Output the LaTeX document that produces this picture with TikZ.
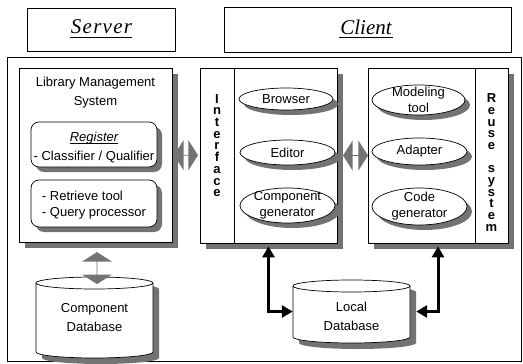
\documentclass[tikz,border=0pt]{standalone}
\usepackage{fontspec}
\setmainfont{Liberation Sans}
\newfontfamily\titlefont{Liberation Serif}
\usetikzlibrary{shapes.geometric,shapes.arrows,arrows.meta,calc}

% outline of an upright database drum: left x, top-ellipse y, width, height
\newcommand\drumpath[4]{(#1,#2) -- (#1,#2+#4)
  arc[start angle=180,end angle=0,x radius=#3/2,y radius=6]
  -- (#1+#3,#2) arc[start angle=0,end angle=-180,x radius=#3/2,y radius=6] -- cycle}

% oval with a cast shadow: name, centre x, centre y, width, height, text
\newcommand\shadedoval[6]{%
  \fill[shadowfill] (#2+5,#3+5) ellipse[x radius=#4/2,y radius=#5/2];
  \node[oval,minimum width=#4pt,minimum height=#5pt] (#1) at (#2,#3) {};
  \node[lbl] at (#1) {#6};}

% rounded box with a cast shadow: name, left, top, right, bottom
\newcommand\shadedbox[5]{%
  \fill[shadowfill,rounded corners=8pt] (#2+5,#3+5) rectangle (#4+5,#5+5);
  \node[subpanel,minimum width=#4pt-#2pt,minimum height=#5pt-#3pt] (#1)
    at ({(#2+#4)/2},{(#3+#5)/2}) {};}

\begin{document}
\begin{tikzpicture}[x=1pt,y=-1pt,
  thin line/.style={draw=black,line width=0.7pt},
  shadowfill/.style={fill=black!55},
  dshadow/.style={preaction={fill=black!55,transform canvas={xshift=6pt,yshift=-6pt}}},
  headbox/.style={thin line,fill=white,inner sep=0pt},
  panel/.style={thin line,fill=white,inner sep=0pt,dshadow},
  subpanel/.style={thin line,fill=white,inner sep=0pt,rounded corners=8pt},
  oval/.style={ellipse,thin line,fill=white,inner sep=0pt},
  lbl/.style={font=\fontsize{13}{16}\selectfont,align=center,inner sep=0pt},
  widelbl/.style={font=\fontsize{13}{19}\selectfont,align=center,inner sep=0pt},
  vlbl/.style={font=\fontsize{13}{11.7}\selectfont\bfseries,align=center,inner sep=0pt},
  titletext/.style={font=\fontsize{21}{24}\selectfont\titlefont\itshape,inner sep=0pt},
  underscore/.style={line width=0.9pt,shorten >=-1pt,shorten <=-1pt},
  garrow/.style={double arrow,fill=black!55,inner sep=0pt,minimum width=30pt,
    double arrow head extend=8pt,double arrow tip angle=115},
  link/.style={line width=3pt,{Triangle[length=11pt,width=12pt]}-{Triangle[length=11pt,width=12pt]}}]

\useasboundingbox (0,0) rectangle (523,364);

% headings
\node[headbox,minimum width=148pt,minimum height=43pt] (server) at (101,29.5) {};
\node[titletext] (servername) at (101,27) {\addfontfeature{LetterSpace=6}Server\kern-1pt};
\draw[underscore] ([yshift=-3.2pt]servername.base west) -- ([yshift=-3.2pt]servername.base east);
\node[headbox,minimum width=287pt,minimum height=45pt] (client) at (367.5,29.5) {};
\node[titletext] (clientname) at (366,27) {Client};
\draw[underscore] ([yshift=-3.2pt]clientname.base west) -- ([yshift=-3.2pt]clientname.base east);

% outer frame
\draw[thin line] (7,57) rectangle (521,361);

% library management system
\node[panel,minimum width=153pt,minimum height=174pt] (lms) at (95.5,155) {};
\node[widelbl] (lmstitle) at (95.5,92.5) {Library Management\\System};
\shadedbox{register}{31}{122}{157}{167}
\node[lbl,font=\fontsize{13}{16}\selectfont\itshape] (regname) at (94,138) {Register};
\draw[line width=0.7pt] ([yshift=-2.2pt]regname.base west) -- ([yshift=-2.2pt]regname.base east);
\node[lbl] (regtools) at (94,157) {- Classifier / Qualifier};
\shadedbox{retrieve}{31}{180}{157}{227}
\node[lbl,align=left] (rettools) at (94,205) {- Retrieve tool\\- Query processor};

% interface panel
\node[panel,minimum width=137pt,minimum height=175pt] (iface) at (268.5,155.5) {};
\draw[thin line] (iface.north west) ++(35,0) coordinate (idivtop) -- (idivtop |- iface.south);
\node[vlbl] (ifacename) at (217,145.5) {I\\n\\t\\e\\r\\f\\a\\c\\e};
\shadedoval{browser}{286}{99}{94}{22}{Browser}
\shadedoval{editor}{287.5}{152.5}{95}{25}{Editor}
\shadedoval{compgen}{287.5}{205.5}{95}{35}{Component\\generator}

% reuse system panel
\node[panel,minimum width=140pt,minimum height=175pt] (reuse) at (438,155.5) {};
\draw[thin line] (reuse.north east) ++(-33,0) coordinate (rdivtop) -- (rdivtop |- reuse.south);
\node[vlbl] (reusename) at (491.5,162.5) {R\\e\\u\\s\\e\\[11.7pt]s\\y\\s\\t\\e\\m};
\shadedoval{modeling}{418.5}{100}{93}{30}{Modeling\\tool}
\shadedoval{adapter}{419.5}{151.5}{95}{27}{Adapter}
\shadedoval{codegen}{419.5}{206.5}{95}{37}{Code\\generator}

% databases
\fill[shadowfill] [shift={(6,6)}] \drumpath{36}{283}{117}{69};
\filldraw[thin line,fill=white] \drumpath{36}{283}{117}{69};
\draw[thin line] (36,283) arc[start angle=180,end angle=0,x radius=58.5,y radius=6];
\node[widelbl,minimum width=117pt,minimum height=60pt] (compdb) at (94.5,318) {Component\\Database};

\fill[shadowfill] [shift={(6,6)}] \drumpath{293}{286}{117}{51};
\filldraw[thin line,fill=white] \drumpath{293}{286}{117}{51};
\draw[thin line] (293,286) arc[start angle=180,end angle=0,x radius=58.5,y radius=6];
\node[minimum width=117pt,minimum height=50pt,inner sep=0pt] (localdb) at (351.5,311.5) {};
\node[widelbl] (localdbname) at (351.5,316) {Local\\Database};

% server-side and client-side exchanges
\path (lms.east) -- node[garrow,minimum height=24pt] (lmsiface) {} (iface.west);
\path ([xshift=6pt]iface.east) -- node[garrow,minimum height=25pt] (ifacereuse) {} (reuse.west);
\path ([xshift=2pt,yshift=-6pt]lms.south) -- node[garrow,rotate=90,minimum height=32pt] (lmsdb) {} ([xshift=2pt]compdb.north);

% local database links
\draw[link] ([yshift=-3pt]iface.south) |- (localdb.west);
\draw[link] ([yshift=-3pt]reuse.south) |- ([xshift=6pt]localdb.east);

\end{tikzpicture}
\end{document}
